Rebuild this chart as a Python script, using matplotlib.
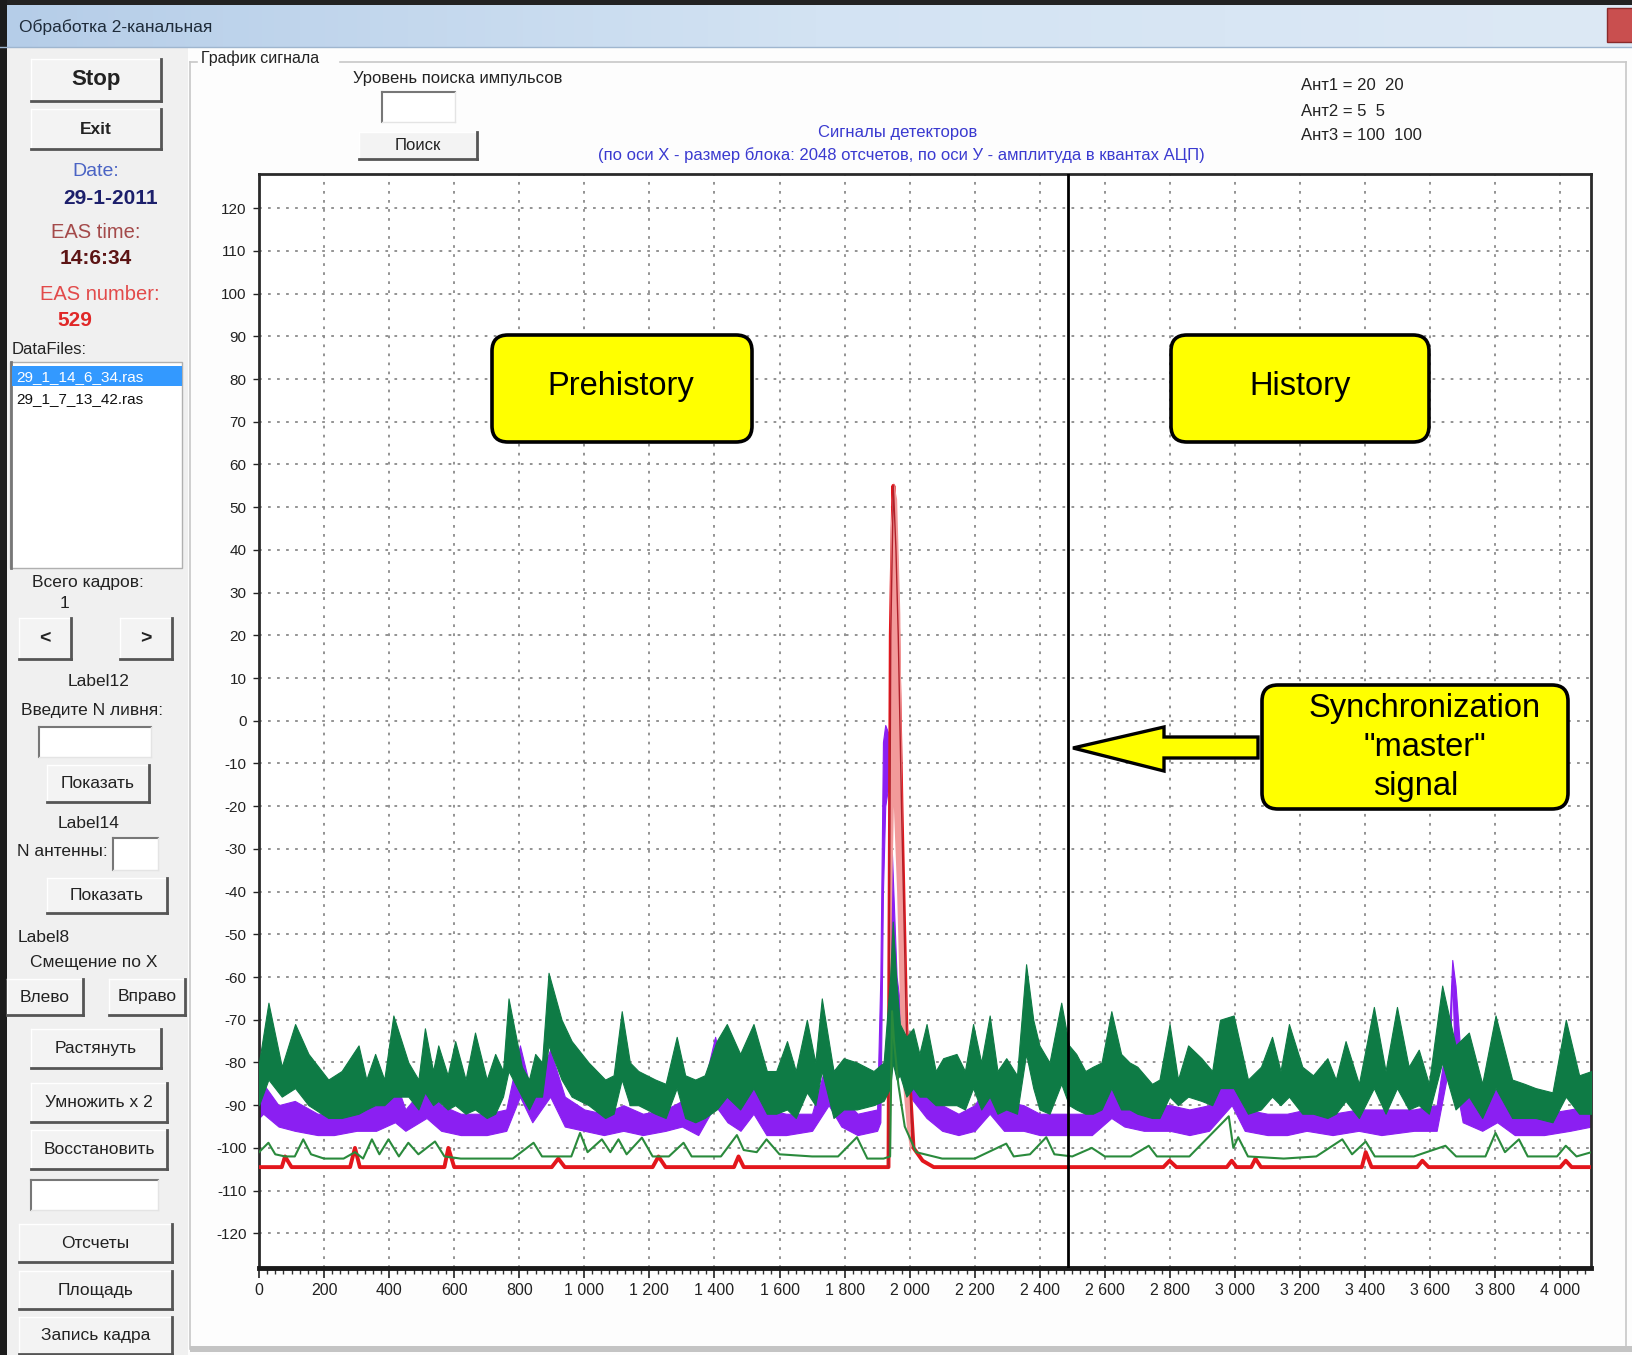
import numpy as np
import matplotlib
matplotlib.use('Agg')
import matplotlib.pyplot as plt
from matplotlib.patches import Rectangle, FancyBboxPatch, Polygon
from matplotlib.colors import LinearSegmentedColormap
from matplotlib.ticker import MultipleLocator, FuncFormatter

plt.rcParams['font.family'] = ['Liberation Sans', 'DejaVu Sans']

W, H = 1633, 1355

# ---- сигналы (отсчеты 0..4096, амплитуда в квантах АЦП) ----
# канал 3 (зеленый, широкая полоса): нижняя и верхняя огибающая
green_x = [0, 29, 70, 111, 152, 213, 254, 306, 330, 357, 385, 413, 459, 490, 510, 535, 551, 580, 603, 635,
           664, 700, 726, 750, 767, 808, 830, 849, 870, 890, 930, 961, 1013, 1064, 1090, 1115, 1140, 1166, 1218, 1250,
           1284, 1310, 1341, 1370, 1407, 1438, 1479, 1520, 1561, 1590, 1623, 1650, 1684, 1710, 1730, 1766, 1797, 1838, 1889, 1920,
           1940, 1948, 1960, 1970, 1990, 2011, 2030, 2052, 2080, 2103, 2144, 2170, 2195, 2220, 2246, 2270, 2297, 2330, 2358, 2380,
           2399, 2430, 2466, 2490, 2512, 2540, 2563, 2590, 2620, 2650, 2676, 2700, 2745, 2768, 2799, 2825, 2856, 2897, 2930, 2954,
           2996, 3040, 3080, 3114, 3140, 3166, 3207, 3240, 3284, 3310, 3340, 3381, 3427, 3463, 3498, 3534, 3565, 3596, 3637, 3678,
           3719, 3760, 3801, 3852, 3890, 3924, 3976, 4017, 4058, 4096]
green_lo = [-90, -84, -88, -86, -90, -93, -93, -92, -91, -90, -90, -88, -88, -91, -87, -90, -89, -91, -90, -92,
            -91, -93, -92, -88, -82, -88, -91, -88, -88, -76, -84, -88, -90, -93, -92, -84, -90, -90, -92, -93,
            -86, -93, -94, -93, -91, -88, -91, -86, -92, -92, -91, -93, -87, -90, -82, -93, -91, -91, -90, -89,
            -86, -80, -84, -83, -88, -86, -88, -88, -90, -90, -90, -91, -86, -91, -88, -92, -91, -92, -78, -86,
            -91, -92, -85, -90, -91, -92, -92, -91, -86, -91, -91, -92, -93, -93, -88, -90, -88, -89, -90, -86,
            -86, -92, -91, -88, -90, -88, -92, -92, -93, -92, -89, -93, -86, -92, -86, -91, -90, -92, -80, -91,
            -88, -93, -86, -93, -93, -93, -94, -88, -92, -92]
green_hi = [-80, -66, -81, -71, -78, -84, -82, -76, -84, -78, -84, -69, -80, -84, -72, -82, -76, -83, -75, -84,
            -73, -84, -78, -82, -65, -81, -84, -78, -80, -59, -70, -75, -80, -84, -83, -68, -80, -82, -84, -85,
            -74, -83, -84, -83, -75, -71, -78, -71, -82, -82, -75, -82, -70, -80, -65, -82, -79, -80, -82, -80,
            -60, -47, -62, -71, -74, -72, -78, -71, -82, -79, -78, -82, -71, -80, -69, -82, -79, -83, -57, -70,
            -76, -80, -66, -76, -78, -82, -81, -80, -68, -78, -80, -81, -85, -84, -71, -84, -76, -79, -82, -70,
            -69, -84, -81, -74, -82, -71, -81, -83, -79, -84, -75, -85, -67, -82, -67, -81, -77, -85, -62, -76,
            -73, -85, -69, -84, -85, -86, -87, -70, -83, -82]

# канал 2 (фиолетовый)
purple_x = [0, 13, 60, 110, 180, 230, 300, 360, 418, 450, 515, 560, 620, 700, 760, 802, 840, 895, 940, 1000,
            1060, 1120, 1180, 1250, 1300, 1350, 1402, 1440, 1480, 1520, 1560, 1620, 1700, 1751, 1790, 1840, 1900, 1910, 1918, 1925,
            1935, 1945, 1960, 1985, 2011, 2052, 2100, 2150, 2200, 2246, 2290, 2350, 2400, 2480, 2560, 2620, 2660, 2720, 2800, 2860,
            2920, 2990, 3030, 3100, 3160, 3220, 3300, 3380, 3450, 3550, 3620, 3660, 3668, 3678, 3700, 3760, 3806, 3860, 3950, 4030,
            4096]
purple_lo = [-93, -92, -95, -96, -97, -97, -96, -96, -94, -96, -93, -96, -97, -97, -96, -88, -94, -88, -95, -96,
             -97, -96, -97, -96, -95, -97, -90, -94, -96, -92, -97, -97, -96, -90, -95, -97, -96, -94, -40, -20,
             -15, -60, -80, -86, -89, -93, -96, -97, -96, -92, -96, -96, -97, -97, -97, -93, -95, -96, -96, -97,
             -96, -90, -96, -97, -97, -96, -97, -96, -97, -96, -96, -80, -60, -85, -94, -96, -94, -97, -97, -96,
             -95]
purple_hi = [-86, -85, -90, -89, -92, -92, -91, -90, -84, -91, -85, -90, -92, -92, -91, -76, -88, -77, -88, -91,
             -92, -90, -92, -91, -89, -91, -74, -86, -90, -82, -91, -92, -92, -78, -88, -92, -91, -60, -5, -1,
             -3, -30, -60, -75, -80, -85, -90, -92, -90, -84, -89, -90, -92, -92, -92, -82, -88, -90, -90, -91,
             -90, -80, -91, -92, -92, -91, -92, -91, -91, -91, -90, -70, -56, -62, -85, -90, -86, -91, -92, -91,
             -90]

# канал 1 (красный)
red_x = [0, 70, 80, 100, 280, 295, 310, 570, 582, 600, 900, 920, 940, 1210, 1228, 1250, 1460, 1474, 1490, 1900,
         1935, 1942, 1950, 1958, 1965, 1975, 1990, 2012, 2040, 2074, 2780, 2799, 2820, 2975, 2990, 3005, 3050, 3063, 3080, 3390,
         3402, 3420, 3560, 3576, 3595, 4000, 4017, 4035, 4096]
red_y = [-104.5, -104.5, -102, -104.5, -104.5, -100, -104.5, -104.5, -100, -104.5, -104.5, -102.5, -104.5, -104.5, -102, -104.5, -104.5, -102, -104.5, -104.5,
         -104.5, 20, 55, 40, 20, -20, -72, -100, -103, -104.5, -104.5, -103, -104.5, -104.5, -103, -104.5, -104.5, -102.5, -104.5, -104.5,
         -101, -104.5, -104.5, -103, -104.5, -104.5, -103, -104.5, -104.5]
# разброс красного канала в импульсе
spike_x = [1934, 1940, 1950, 1960, 1970, 1978, 1990, 2003]
spike_lo = [-104, -60, -20, -40, -70, -85, -95, -102]
spike_hi = [-104, 45, 56, 52, 25, -35, -70, -98]

# сумма (тонкая зеленая)
thin_x = [0, 29, 50, 80, 110, 136, 160, 200, 260, 295, 320, 347, 370, 398, 430, 459, 490, 541, 570, 620,
          700, 780, 844, 870, 960, 987, 1010, 1054, 1080, 1105, 1130, 1177, 1210, 1260, 1305, 1330, 1420, 1469, 1490, 1530,
          1560, 1600, 1700, 1780, 1838, 1870, 1920, 1940, 1946, 1952, 1965, 1985, 2020, 2100, 2200, 2297, 2320, 2370, 2420, 2445,
          2500, 2560, 2600, 2680, 2735, 2760, 2860, 2981, 2995, 3010, 3040, 3150, 3250, 3330, 3360, 3402, 3430, 3550, 3647, 3680,
          3770, 3801, 3830, 3873, 3900, 3990, 4017, 4050, 4096]
thin_y = [-101, -98.8, -101.5, -102, -102, -98, -101.5, -102.5, -102.5, -101, -102.5, -98, -101.5, -98, -102, -98.8, -101.5, -98.5, -102, -102.5,
          -102.5, -102.5, -98.8, -102, -102, -96.5, -101, -98, -101, -98, -101.5, -97.6, -102, -102, -98.8, -102, -102, -97, -100.5, -101,
          -98, -101.5, -102, -102, -97.5, -102.5, -102.5, -102, -68, -75, -85, -95, -101, -102.5, -102.5, -99, -102, -101.5, -97.5, -101.5,
          -102, -100, -102, -102, -99.5, -102, -102, -92.6, -100, -97.5, -102, -102.5, -102, -98, -101.5, -98.5, -102, -102, -99.5, -102,
          -102, -96.5, -101, -98, -102, -102, -99.5, -102, -101]

sync_x = 2488
x_ticks = list(range(0, 4001, 200))
y_ticks = list(range(-120, 121, 10))

ant_lines = ["Ант1 = 20  20", "Ант2 = 5  5", "Ант3 = 100  100"]
data_files = ["29_1_14_6_34.ras", "29_1_7_13_42.ras"]

fig = plt.figure(figsize=(W / 100, H / 100), dpi=100)
fig.patch.set_facecolor('#fdfdfd')

# фон окна в пикселях
bg = fig.add_axes([0, 0, 1, 1])
bg.axis('off')

cm = LinearSegmentedColormap.from_list('tb', ['#b5cde8', '#d3e3f3', '#dde9f5'])
bg.imshow(np.linspace(0, 1, 256).reshape(1, -1), extent=(0, W, 47, 0), aspect='auto', cmap=cm, zorder=0)
bg.add_patch(Rectangle((0, 0), W, 5, fc='#222222', ec='none', zorder=1))
bg.add_patch(Rectangle((0, 47), 188, H - 47, fc='#f0f0f0', ec='none', zorder=1))
bg.add_patch(Rectangle((0, 0), 7, H, fc='#1c1c1c', ec='none', zorder=2))
bg.add_patch(Rectangle((1607, 8), 26, 34, fc='#c94f4f', ec='#8a2a2a', zorder=2))
bg.plot([0, W], [47, 47], color='#9fb6cf', lw=1, zorder=2)
bg.text(19, 27, "Обработка 2-канальная", fontsize=12.5, color='#1e2b3a', va='center', ha='left', zorder=3)

# рамка "График сигнала"
gb = dict(color='#c8c8c8', lw=1.2, zorder=2)
bg.plot([190, 197], [62, 62], **gb)
bg.plot([340, 1626], [62, 62], **gb)
bg.plot([190, 190], [62, 1349], **gb)
bg.plot([1626, 1626], [62, 1349], **gb)
bg.add_patch(Rectangle((190, 1346), W - 190, 6, fc='#c4c4c4', ec='none', zorder=2))
bg.text(201, 58, "График сигнала", fontsize=11.5, color='#222', va='center', ha='left', zorder=3)


def button(x0, y0, x1, y1, label, size=12.5, weight='normal'):
    bg.add_patch(Rectangle((x0, y0), x1 - x0, y1 - y0, fc='#f3f3f3', ec='none', zorder=3))
    bg.plot([x0, x1], [y0, y0], color='#ffffff', lw=1, zorder=4)
    bg.plot([x0, x0], [y0, y1], color='#ffffff', lw=1, zorder=4)
    bg.plot([x0, x1], [y1, y1], color='#555555', lw=2, zorder=4)
    bg.plot([x1, x1], [y0, y1], color='#555555', lw=2, zorder=4)
    bg.text((x0 + x1) / 2, (y0 + y1) / 2, label, fontsize=size, fontweight=weight,
            color='#222', ha='center', va='center', zorder=5)


def textbox(x0, y0, x1, y1):
    bg.add_patch(Rectangle((x0, y0), x1 - x0, y1 - y0, fc='white', ec='none', zorder=3))
    bg.plot([x0, x1], [y0, y0], color='#777777', lw=1.5, zorder=4)
    bg.plot([x0, x0], [y0, y1], color='#777777', lw=1.5, zorder=4)
    bg.plot([x0, x1], [y1, y1], color='#e4e4e4', lw=1, zorder=4)
    bg.plot([x1, x1], [y0, y1], color='#e4e4e4', lw=1, zorder=4)


def label(x, y, s, size=12.5, color='#222', ha='center', weight='normal'):
    bg.text(x, y, s, fontsize=size, color=color, ha=ha, va='center', fontweight=weight, zorder=5)


# левая панель
button(31, 59, 161, 101, "Stop", 16, 'bold')
button(31, 109, 161, 149, "Exit", 12.5, 'bold')
label(96, 171, "Date:", 14, '#4a63c4')
label(111, 199, "29-1-2011", 15, '#1c1f6b', weight='bold')
label(96, 233, "EAS time:", 14.5, '#a44a4a')
label(96, 258, "14:6:34", 15, '#5c1414', weight='bold')
label(100, 295, "EAS number:", 14.5, '#e24a4a')
label(75, 321, "529", 15, '#e02828', weight='bold')
label(12, 349, "DataFiles:", 12, ha='left')
bg.add_patch(Rectangle((10, 362), 172, 206, fc='white', ec='#b0b0b0', lw=1, zorder=3))
bg.plot([11, 11], [362, 568], color='#777', lw=2, zorder=4)
bg.add_patch(Rectangle((12, 366), 170, 20, fc='#3399ff', ec='none', zorder=4))
label(16, 377, data_files[0], 11, 'white', ha='left')
label(16, 399, data_files[1], 11, '#111', ha='left')
label(88, 583, "Всего кадров:", 12.5)
label(65, 604, "1", 12.5)
button(19, 618, 71, 659, "<", 14, 'bold')
button(120, 618, 172, 659, ">", 14, 'bold')
label(99, 682, "Label12")
label(92, 711, "Введите N ливня:")
textbox(39, 727, 151, 757)
button(47, 765, 149, 802, "Показать")
label(89, 823, "Label14")
label(62, 852, "N антенны:")
textbox(113, 838, 158, 870)
button(47, 878, 167, 913, "Показать")
label(44, 937, "Label8")
label(94, 963, "Смещение по X")
button(7, 979, 83, 1015, "Влево")
button(109, 979, 185, 1015, "Вправо")
button(31, 1029, 161, 1068, "Растянуть")
button(31, 1083, 167, 1122, "Умножить x 2")
button(31, 1130, 167, 1169, "Восстановить")
textbox(31, 1180, 158, 1210)
button(19, 1224, 172, 1262, "Отсчеты")
button(19, 1271, 172, 1309, "Площадь")
button(19, 1317, 172, 1354, "Запись кадра")

# верх области графика
label(458, 78, "Уровень поиска импульсов", 12)
textbox(382, 92, 455, 122)
button(359, 132, 477, 159, "Поиск", 12)
label(898, 133, "Сигналы детекторов", 12, '#3a3ad0')
label(901, 155, "(по оси X - размер блока: 2048 отсчетов, по оси У - амплитуда в квантах АЦП)", 12, '#3a3ad0')
for i, s in enumerate(ant_lines):
    label(1301, 86 + i * 25, s, 12, '#222', ha='left')

bg.set_xlim(0, W)
bg.set_ylim(H, 0)

# ---- график ----
ax = fig.add_axes([259 / W, 1 - 1267.5 / H, (1591.5 - 259) / W, (1267.5 - 174) / H], zorder=2)
ax.set_facecolor('white')
ax.fill_between(purple_x, purple_lo, purple_hi, color='#8b1ff2', lw=0.8, zorder=2)
ax.plot(red_x, red_y, color='#e3161c', lw=2.8, zorder=3)
# импульс красного канала: светлая полоса разброса и тонкая линия по центру
ax.fill_between(spike_x, spike_lo, spike_hi, color='#f29a9a', lw=0, zorder=4)
i0, i1 = red_x.index(1935), red_x.index(2012)
ax.plot(red_x[i0:i1 + 1], red_y[i0:i1 + 1], color='#b0202a', lw=1, zorder=4.5)
ax.fill_between(green_x, green_lo, green_hi, color='#0e7b45', lw=0.8, zorder=5)
ax.plot(thin_x, thin_y, color='#2a8a3c', lw=1.5, zorder=6)
ax.axvline(sync_x, color='black', lw=2, zorder=7)

ax.set_xlim(0, 4096)
ax.set_ylim(-128, 128)
ax.set_xticks(x_ticks)
ax.set_yticks(y_ticks)
ax.xaxis.set_minor_locator(MultipleLocator(25))
ax.xaxis.set_major_formatter(FuncFormatter(lambda v, p: f"{int(v):,}".replace(',', ' ')))
ax.yaxis.set_major_formatter(FuncFormatter(lambda v, p: f"{int(v)}"))
ax.tick_params(axis='x', which='major', length=7, width=1.2, labelsize=11.5, pad=4, colors='#222')
ax.tick_params(axis='x', which='minor', length=4, width=1, colors='#333')
ax.tick_params(axis='y', length=4, width=1, labelsize=11, pad=5, colors='#222')
ax.grid(True, which='major', color='#8a8a8a', linestyle=(0, (1.5, 3.5)), lw=1.3)
ax.set_axisbelow(True)
for side in ['left', 'right', 'top']:
    ax.spines[side].set_linewidth(2)
    ax.spines[side].set_color('#2a2a2a')
ax.spines['bottom'].set_linewidth(3.5)
ax.spines['bottom'].set_color('#1a1a1a')

# ---- пояснения поверх графика ----
top = fig.add_axes([0, 0, 1, 1], zorder=10)
top.set_facecolor('none')
top.axis('off')
top.set_xlim(0, W)
top.set_ylim(H, 0)

box_style = dict(boxstyle='round,pad=0,rounding_size=16', fc='#ffff00', ec='black', lw=2.6)
top.add_patch(FancyBboxPatch((492, 335), 260, 107, **box_style))
top.add_patch(FancyBboxPatch((1171, 335), 258, 107, **box_style))
top.text(621, 386, "Prehistory", fontsize=23.5, ha='center', va='center')
top.text(1300, 386, "History", fontsize=23.5, ha='center', va='center')

top.add_patch(Polygon([(1258, 737), (1164, 737), (1164, 727), (1073, 748), (1164, 771), (1164, 758), (1258, 758)],
                      closed=True, fc='#ffff00', ec='black', lw=2.4))
top.add_patch(FancyBboxPatch((1262, 685), 306, 124, **box_style))
top.text(1425, 708, "Synchronization", fontsize=23.5, ha='center', va='center')
top.text(1425, 748, "\"master\"", fontsize=23.5, ha='center', va='center')
top.text(1416, 786, "signal", fontsize=23.5, ha='center', va='center')

fig.savefig('out.png', dpi=100, facecolor=fig.get_facecolor())
